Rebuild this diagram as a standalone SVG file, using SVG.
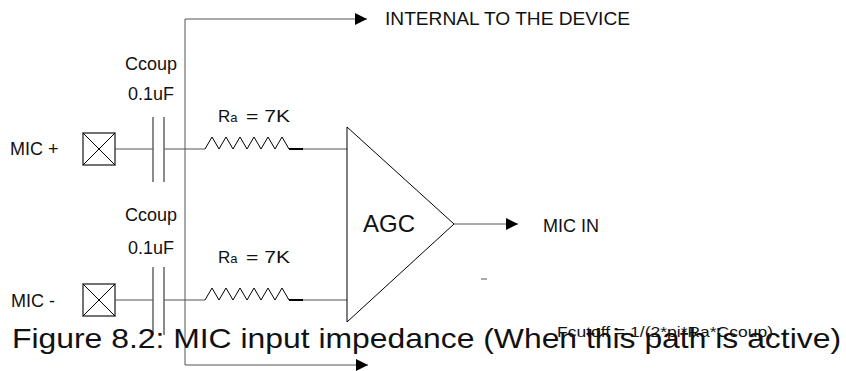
<svg xmlns="http://www.w3.org/2000/svg" width="846" height="371" viewBox="0 0 846 371">
<style>
  text { font-family: "Liberation Sans", Arial, sans-serif; fill: #111; }
  .w { stroke: #555; stroke-width: 1; fill: none; }
  .k { stroke: #000; stroke-width: 1; fill: none; }
  .plate { stroke: #666; stroke-width: 1.5; fill: none; }
  .pad { stroke: #444; stroke-width: 1.5; fill: #fff; }
  .lbl { font-size: 18px; }
  .rl { font-size: 17px; }
</style>
<defs>
  <marker id="arr" viewBox="0 0 12 12" refX="12" refY="6" markerWidth="12" markerHeight="12" markerUnits="userSpaceOnUse" orient="auto">
    <path d="M0,0 L12,6 L0,12 z" fill="#000"/>
  </marker>
</defs>
<rect width="846" height="371" fill="#fff"/>

<g id="connectors">
  <path class="w" d="M185,365 L185,19 L367,19" marker-end="url(#arr)"/>
  <path class="w" d="M185,365 L368,365" marker-end="url(#arr)"/>
  <path class="w" d="M115,149 L153,149 M164,149 L205,149 M303,149 L347,149"/>
  <path class="w" d="M115,300 L153,300 M164,300 L205,300 M303,300 L347,300"/>
  <path class="w" d="M454,224 L518,224" marker-end="url(#arr)"/>
  <path class="w" d="M481,279 L487,279"/>
</g>

<g id="pad-micp">
  <rect class="pad" x="83" y="133" width="32" height="32"/>
  <path class="k" d="M83,133 L115,165 M115,133 L83,165"/>
  <text class="lbl" x="10" y="155">MIC +</text>
</g>
<g id="pad-micn">
  <rect class="pad" x="83" y="284" width="32" height="32"/>
  <path class="k" d="M83,284 L115,316 M115,284 L83,316"/>
  <text class="lbl" x="11" y="307">MIC -</text>
</g>

<g id="cap-1">
  <path class="plate" d="M153,117 L153,182 M164,117 L164,182"/>
  <text class="lbl" x="125" y="70">Ccoup</text>
  <text class="lbl" x="128" y="100">0.1uF</text>
</g>
<g id="cap-2">
  <path class="plate" d="M153,267 L153,335 M164,267 L164,335"/>
  <text class="lbl" x="125" y="221">Ccoup</text>
  <text class="lbl" x="128" y="254">0.1uF</text>
</g>

<g id="res-1">
  <path class="k" d="M205,149 L212,137 L219,149 L226,137 L233,149 L240,137 L247,149 L254,137 L261,149 L268,137 L275,149 L282,137 L289,149"/>
  <path d="M289,149 L303,149" stroke="#000" stroke-width="2"/>
  <text class="rl" x="218" y="122">R<tspan font-size="13">a</tspan></text>
  <text class="rl" x="246" y="122" textLength="44" lengthAdjust="spacingAndGlyphs">= 7K</text>
</g>
<g id="res-2">
  <path class="k" d="M205,300 L212,288 L219,300 L226,288 L233,300 L240,288 L247,300 L254,288 L261,300 L268,288 L275,300 L282,288 L289,300"/>
  <path d="M289,300 L303,300" stroke="#000" stroke-width="2"/>
  <text class="rl" x="218" y="263">R<tspan font-size="13">a</tspan></text>
  <text class="rl" x="246" y="263" textLength="44" lengthAdjust="spacingAndGlyphs">= 7K</text>
</g>

<g id="agc">
  <path class="k" d="M347,127 L454,224 L347,322 Z" fill="#fff"/>
  <text x="363" y="232" font-size="24">AGC</text>
</g>

<g id="labels">
  <text class="lbl" x="385" y="25" textLength="245" lengthAdjust="spacingAndGlyphs">INTERNAL TO THE DEVICE</text>
  <text class="lbl" x="543" y="232">MIC IN</text>
  <text x="12" y="348" font-size="28" textLength="829" lengthAdjust="spacingAndGlyphs">Figure 8.2: MIC input impedance (When this path is active)</text>
  <text x="557" y="337" font-size="14" textLength="216" lengthAdjust="spacingAndGlyphs">Fcutoff = 1/(2*pi*Ra*Ccoup)</text>
</g>
</svg>
